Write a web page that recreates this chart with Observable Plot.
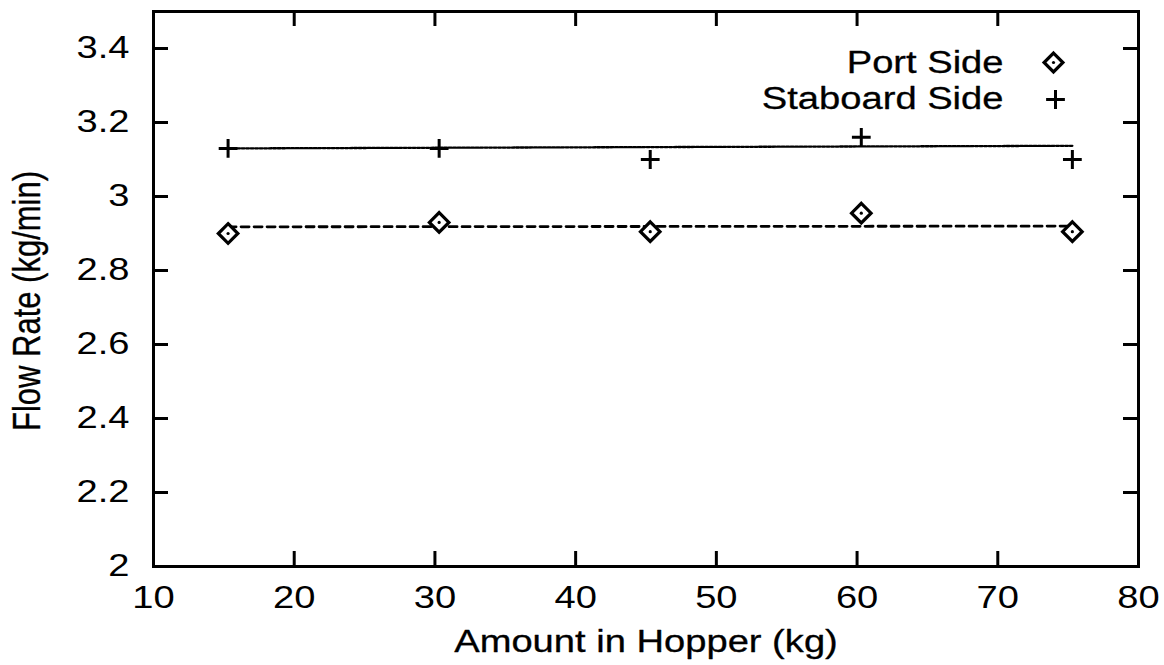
<!DOCTYPE html>
<html><head>
<meta charset="utf-8">
<script src="https://cdn.jsdelivr.net/npm/d3@7"></script>
<script src="https://cdn.jsdelivr.net/npm/@observablehq/plot@0.6"></script>
<style>body{margin:0;background:#fff}</style>
</head><body><div id="chart"></div>
<script>
// Data
const amounts = [15.3, 30.3, 45.3, 60.3, 75.3];
const portSide = [2.90, 2.93, 2.905, 2.955, 2.905];
const staboardSide = [3.13, 3.13, 3.10, 3.16, 3.10];
const fitX = [15.3, 75.3];
const portFitY = [2.918, 2.920];
const staboardFitY = [3.130, 3.137];
const xTicks = [10, 20, 30, 40, 50, 60, 70, 80];
const yTicks = [2, 2.2, 2.4, 2.6, 2.8, 3, 3.2, 3.4];
const seriesNames = ["Port Side", "Staboard Side"];
const xTitle = "Amount in Hopper (kg)";
const yTitle = "Flow Rate (kg/min)";

const W = 1164, H = 665;
const mL = 153, mR = 26, mT = 11, mB = 99;
const plotW = W - mL - mR, plotH = H - mT - mB;
const font = "'Liberation Sans', Arial, Helvetica, sans-serif";
const FS = 31;       // font size
const STRETCH = 1.23; // horizontal stretch of the original print

const port = amounts.map((x, i) => ({x, y: portSide[i]}));
const stab = amounts.map((x, i) => ({x, y: staboardSide[i]}));
const portFit = fitX.map((x, i) => ({x, y: portFitY[i]}));
const stabFit = fitX.map((x, i) => ({x, y: staboardFitY[i]}));

const txt = {fill: "#000", stroke: "#000", strokeWidth: 0.3, fontSize: FS};

const chart = Plot.plot({
  width: W, height: H,
  marginLeft: mL, marginRight: mR, marginTop: mT, marginBottom: mB,
  style: {fontFamily: font, color: "#000", background: "#fff"},
  x: {domain: [10, 80]},
  y: {domain: [2, 3.5]},
  marks: [
    // fitted lines
    Plot.line(portFit, {x: "x", y: "y", stroke: "#000", strokeWidth: 2.8, strokeDasharray: "8,5"}),
    Plot.line(stabFit, {x: "x", y: "y", stroke: "#000", strokeWidth: 2.3, strokeDasharray: "3,1.5"}),
    // data points
    Plot.dot(port, {x: "x", y: "y", symbol: "diamond2", r: 8.8, stroke: "#000", strokeWidth: 3.2, fill: "#fff"}),
    Plot.dot(port, {x: "x", y: "y", r: 1.6, fill: "#000", stroke: null}),
    Plot.dot(stab, {x: "x", y: "y", symbol: "plus", r: 6.1, stroke: "#000", strokeWidth: 3}),
    // inward ticks
    Plot.tickX(xTicks.slice(1, -1), {x: d => d, insetTop: plotH - 15, stroke: "#000", strokeWidth: 3}),
    Plot.tickX(xTicks.slice(1, -1), {x: d => d, insetBottom: plotH - 15, stroke: "#000", strokeWidth: 3}),
    Plot.tickY(yTicks.slice(1), {y: d => d, insetRight: plotW - 15, stroke: "#000", strokeWidth: 3}),
    Plot.tickY(yTicks.slice(1), {y: d => d, insetLeft: plotW - 15, stroke: "#000", strokeWidth: 3}),
    Plot.frame({stroke: "#000", strokeWidth: 3}),
    // axes labels
    Plot.axisX({ticks: xTicks, tickSize: 0, tickPadding: 19, tickFormat: d => String(d), label: null, ...txt}),
    Plot.axisY({ticks: yTicks, tickSize: 0, tickPadding: 24, tickFormat: d => String(d), label: null, ...txt}),
    Plot.text([xTitle], {text: d => d, frameAnchor: "bottom", lineAnchor: "middle", dy: 76, ...txt}),
    Plot.text([yTitle], {text: d => d, frameAnchor: "left", textAnchor: "middle", lineAnchor: "middle", dx: -126, dy: 12, rotate: -90, ...txt}),
    // legend
    Plot.text([seriesNames[0]], {text: d => d, frameAnchor: "top-right", textAnchor: "end", lineAnchor: "middle", dx: -135, dy: 52, ...txt}),
    Plot.text([seriesNames[1]], {text: d => d, frameAnchor: "top-right", textAnchor: "end", lineAnchor: "middle", dx: -135, dy: 88, ...txt}),
    Plot.dot([0], {frameAnchor: "top-right", dx: -85, dy: 51, symbol: "diamond2", r: 8.5, stroke: "#000", strokeWidth: 3.2}),
    Plot.dot([0], {frameAnchor: "top-right", dx: -85, dy: 51, r: 1.6, fill: "#000", stroke: null}),
    Plot.dot([0], {frameAnchor: "top-right", dx: -83, dy: 88, symbol: "plus", r: 6.1, stroke: "#000", strokeWidth: 3})
  ]
});
document.getElementById("chart").append(chart);

// emulate the horizontally stretched lettering of the printed original
chart.querySelectorAll("text").forEach(t => {
  if (t.textContent === yTitle) {
    const tr = t.getAttribute("transform") || "";
    t.setAttribute("transform", tr + " scale(1," + STRETCH + ")");
    return;
  }
  const len = t.getComputedTextLength();
  if (len > 0) {
    t.setAttribute("textLength", (len * STRETCH).toFixed(1));
    t.setAttribute("lengthAdjust", "spacingAndGlyphs");
  }
});
</script>
</body></html>
